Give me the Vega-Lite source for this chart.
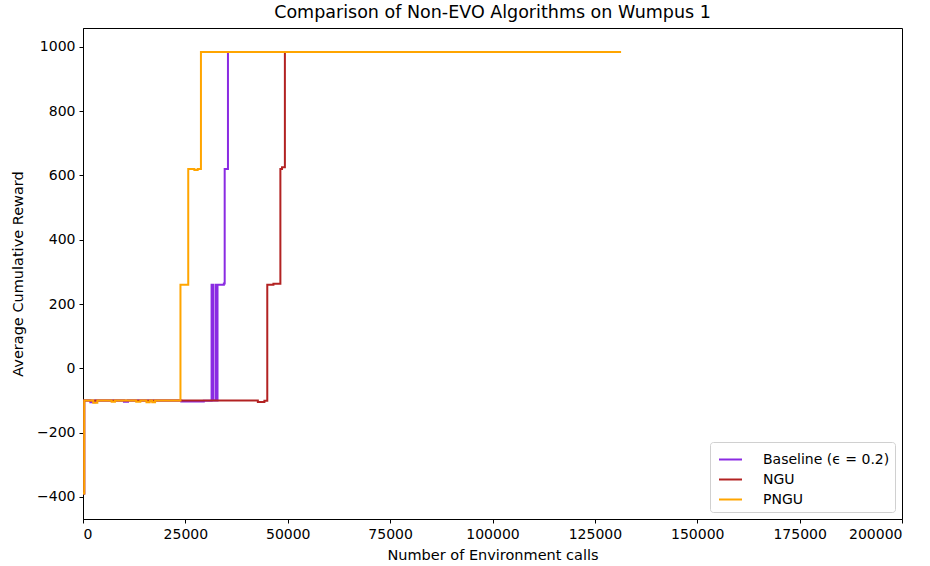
{
  "$schema": "https://vega.github.io/schema/vega-lite/v6.json",
  "autosize": {"type": "none"},
  "padding": {"left": 83, "top": 28, "right": 28, "bottom": 47},
  "width": 819,
  "height": 491,
  "title": {"text": "Comparison of Non-EVO Algorithms on Wumpus 1", "font": "DejaVu Sans", "fontSize": 17.5, "fontWeight": "normal", "color": "#000", "offset": 7},
  "config": {
    "font": "DejaVu Sans",
    "view": {"stroke": "#000", "strokeWidth": 1},
    "axis": {"grid": false, "domainColor": "#000", "tickColor": "#000", "tickSize": 4, "labelColor": "#000", "labelFontSize": 14, "titleFontSize": 14.5, "titleFontWeight": "normal", "titleColor": "#000", "labelFont": "DejaVu Sans", "titleFont": "DejaVu Sans"},
    "legend": {"labelFont": "DejaVu Sans", "labelFontSize": 14, "labelColor": "#000"}
  },
  "data": {"values": [
    {"series": "Baseline (ϵ = 0.2)", "x": 0, "y": -390},
    {"series": "Baseline (ϵ = 0.2)", "x": 300, "y": -100},
    {"series": "Baseline (ϵ = 0.2)", "x": 1800, "y": -106},
    {"series": "Baseline (ϵ = 0.2)", "x": 3000, "y": -100},
    {"series": "Baseline (ϵ = 0.2)", "x": 10000, "y": -104},
    {"series": "Baseline (ϵ = 0.2)", "x": 11000, "y": -100},
    {"series": "Baseline (ϵ = 0.2)", "x": 24000, "y": -103},
    {"series": "Baseline (ϵ = 0.2)", "x": 29500, "y": -101},
    {"series": "Baseline (ϵ = 0.2)", "x": 31400, "y": 260},
    {"series": "Baseline (ϵ = 0.2)", "x": 31800, "y": -100},
    {"series": "Baseline (ϵ = 0.2)", "x": 32400, "y": 260},
    {"series": "Baseline (ϵ = 0.2)", "x": 32650, "y": -100},
    {"series": "Baseline (ϵ = 0.2)", "x": 32850, "y": 260},
    {"series": "Baseline (ϵ = 0.2)", "x": 34400, "y": 264},
    {"series": "Baseline (ϵ = 0.2)", "x": 34600, "y": 620},
    {"series": "Baseline (ϵ = 0.2)", "x": 35400, "y": 984},
    {"series": "Baseline (ϵ = 0.2)", "x": 50000, "y": 984},
    {"series": "NGU", "x": 0, "y": -390},
    {"series": "NGU", "x": 300, "y": -100},
    {"series": "NGU", "x": 42700, "y": -105},
    {"series": "NGU", "x": 44300, "y": -101},
    {"series": "NGU", "x": 45000, "y": 260},
    {"series": "NGU", "x": 46500, "y": 263},
    {"series": "NGU", "x": 48200, "y": 620},
    {"series": "NGU", "x": 48600, "y": 626},
    {"series": "NGU", "x": 49300, "y": 984},
    {"series": "NGU", "x": 57000, "y": 984},
    {"series": "PNGU", "x": 0, "y": -390},
    {"series": "PNGU", "x": 300, "y": -100},
    {"series": "PNGU", "x": 2500, "y": -107},
    {"series": "PNGU", "x": 3500, "y": -100},
    {"series": "PNGU", "x": 7000, "y": -104},
    {"series": "PNGU", "x": 7800, "y": -100},
    {"series": "PNGU", "x": 13000, "y": -104},
    {"series": "PNGU", "x": 14000, "y": -100},
    {"series": "PNGU", "x": 15500, "y": -106},
    {"series": "PNGU", "x": 16300, "y": -100},
    {"series": "PNGU", "x": 16900, "y": -106},
    {"series": "PNGU", "x": 17600, "y": -100},
    {"series": "PNGU", "x": 23800, "y": 260},
    {"series": "PNGU", "x": 25700, "y": 620},
    {"series": "PNGU", "x": 27200, "y": 617},
    {"series": "PNGU", "x": 28000, "y": 620},
    {"series": "PNGU", "x": 28800, "y": 984},
    {"series": "PNGU", "x": 131400, "y": 984}
  ]},
  "mark": {"type": "line", "interpolate": "step-after", "strokeWidth": 2, "clip": true},
  "encoding": {
    "x": {"field": "x", "type": "quantitative", "title": "Number of Environment calls",
      "scale": {"domain": [0, 200000], "nice": false, "zero": false},
      "axis": {"values": [0, 25000, 50000, 75000, 100000, 125000, 150000, 175000, 200000], "format": "d", "labelPadding": 4, "titlePadding": 7}},
    "y": {"field": "y", "type": "quantitative", "title": "Average Cumulative Reward",
      "scale": {"domain": [-469, 1059], "nice": false, "zero": false},
      "axis": {"values": [-400, -200, 0, 200, 400, 600, 800, 1000], "format": "d", "labelPadding": 4, "titlePadding": 11}},
    "color": {"field": "series", "type": "nominal",
      "scale": {"domain": ["Baseline (ϵ = 0.2)", "NGU", "PNGU"], "range": ["#8A2BE2", "#B22222", "#FFA500"]},
      "legend": {"title": null, "orient": "bottom-right", "offset": 7, "padding": 5, "strokeColor": "#d0d0d0", "fillColor": "#fff", "cornerRadius": 3, "symbolType": "stroke", "symbolStrokeWidth": 2, "symbolSize": 529, "symbolOffset": 3, "rowPadding": 0, "labelOffset": 20}},
    "order": {"field": "series"}
  }
}
